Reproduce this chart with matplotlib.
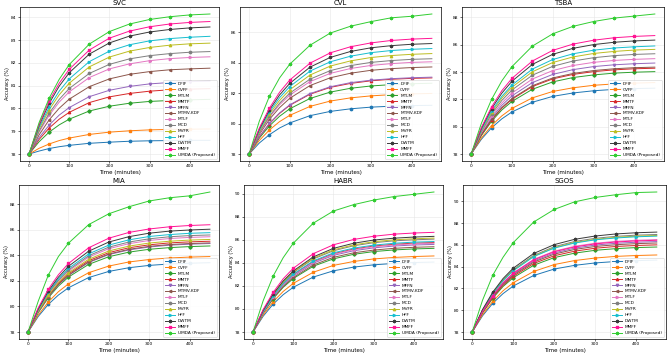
import numpy as np
import matplotlib
matplotlib.use("Agg")
import matplotlib.pyplot as plt

time_min = [0, 25, 50, 75, 100, 150, 200, 250, 300, 350, 400, 450]

methods = ["DFIF", "CVFF", "MTLM", "MMTF", "MFFN", "MTMV-KDF", "MTLF",
           "MCD", "MVFR", "HFF", "DWTM", "MMFF", "UMDA (Proposed)"]

svc = {
    "DFIF": [78.0, 78.13, 78.24, 78.32, 78.38, 78.47, 78.52, 78.56, 78.58, 78.59, 78.60, 78.60],
    "CVFF": [78.0, 78.25, 78.44, 78.59, 78.70, 78.86, 78.96, 79.02, 79.06, 79.08, 79.09, 79.10],
    "MTLM": [78.0, 78.54, 78.96, 79.28, 79.53, 79.89, 80.10, 80.23, 80.31, 80.35, 80.38, 80.40],
    "MMTF": [78.0, 78.64, 79.14, 79.53, 79.83, 80.26, 80.51, 80.66, 80.76, 80.82, 80.85, 80.87],
    "MFFN": [78.0, 78.72, 79.27, 79.71, 80.04, 80.52, 80.80, 80.97, 81.08, 81.14, 81.18, 81.20],
    "MTMV-KDF": [78.0, 78.84, 79.50, 80.01, 80.41, 80.96, 81.30, 81.50, 81.62, 81.70, 81.74, 81.77],
    "MTLF": [78.0, 78.96, 79.70, 80.28, 80.73, 81.36, 81.74, 81.96, 82.10, 82.19, 82.24, 82.27],
    "MCD": [78.0, 79.01, 79.79, 80.40, 80.88, 81.54, 81.94, 82.18, 82.32, 82.41, 82.47, 82.50],
    "MVFR": [78.0, 79.09, 79.94, 80.60, 81.11, 81.83, 82.26, 82.52, 82.68, 82.78, 82.84, 82.87],
    "HFF": [78.0, 79.16, 80.06, 80.76, 81.30, 82.06, 82.52, 82.80, 82.97, 83.07, 83.13, 83.17],
    "DWTM": [78.0, 79.25, 80.22, 80.98, 81.57, 82.39, 82.88, 83.18, 83.36, 83.47, 83.54, 83.58],
    "MMFF": [78.0, 79.30, 80.32, 81.11, 81.72, 82.57, 83.09, 83.40, 83.59, 83.71, 83.78, 83.82],
    "UMDA (Proposed)": [78.0, 79.38, 80.45, 81.28, 81.93, 82.83, 83.38, 83.71, 83.91, 84.03, 84.11, 84.15],
}

cvl = {
    "DFIF": [78.0, 78.72, 79.27, 79.71, 80.04, 80.52, 80.80, 80.97, 81.08, 81.14, 81.18, 81.20],
    "CVFF": [78.0, 78.89, 79.58, 80.13, 80.54, 81.13, 81.48, 81.69, 81.82, 81.90, 81.95, 81.98],
    "MTLM": [78.0, 79.04, 79.85, 80.48, 80.97, 81.65, 82.07, 82.32, 82.47, 82.56, 82.62, 82.65],
    "MMTF": [78.0, 79.12, 79.99, 80.67, 81.20, 81.93, 82.38, 82.64, 82.81, 82.91, 82.97, 83.00],
    "MFFN": [78.0, 79.13, 80.01, 80.70, 81.23, 81.97, 82.42, 82.69, 82.85, 82.95, 83.01, 83.05],
    "MTMV-KDF": [78.0, 79.28, 80.28, 81.05, 81.66, 82.50, 83.01, 83.31, 83.50, 83.61, 83.68, 83.72],
    "MTLF": [78.0, 79.36, 80.41, 81.24, 81.87, 82.76, 83.30, 83.62, 83.82, 83.94, 84.02, 84.06],
    "MCD": [78.0, 79.40, 80.49, 81.34, 82.00, 82.92, 83.48, 83.81, 84.02, 84.14, 84.22, 84.26],
    "MVFR": [78.0, 79.48, 80.63, 81.52, 82.22, 83.19, 83.78, 84.12, 84.34, 84.47, 84.55, 84.60],
    "HFF": [78.0, 79.55, 80.76, 81.70, 82.43, 83.45, 84.06, 84.43, 84.66, 84.80, 84.88, 84.93],
    "DWTM": [78.0, 79.63, 80.89, 81.88, 82.64, 83.71, 84.35, 84.74, 84.98, 85.12, 85.21, 85.26],
    "MMFF": [78.0, 79.70, 81.02, 82.06, 82.86, 83.97, 84.65, 85.05, 85.30, 85.46, 85.55, 85.60],
    "UMDA (Proposed)": [78.0, 80.15, 81.80, 83.00, 83.90, 85.15, 85.95, 86.40, 86.70, 86.95, 87.05, 87.20],
}

tsba = {
    "DFIF": [78.0, 79.08, 79.92, 80.57, 81.08, 81.79, 82.22, 82.47, 82.63, 82.73, 82.79, 82.82],
    "CVFF": [78.0, 79.17, 80.08, 80.79, 81.34, 82.11, 82.58, 82.85, 83.03, 83.13, 83.19, 83.23],
    "MTLM": [78.0, 79.35, 80.40, 81.22, 81.85, 82.74, 83.28, 83.60, 83.79, 83.92, 83.99, 84.03],
    "MMTF": [78.0, 79.41, 80.50, 81.35, 82.01, 82.94, 83.50, 83.83, 84.03, 84.16, 84.24, 84.28],
    "MFFN": [78.0, 79.49, 80.65, 81.56, 82.26, 83.23, 83.83, 84.18, 84.40, 84.53, 84.61, 84.66],
    "MTMV-KDF": [78.0, 79.42, 80.53, 81.40, 82.06, 83.00, 83.57, 83.90, 84.11, 84.24, 84.32, 84.36],
    "MTLF": [78.0, 79.56, 80.78, 81.73, 82.46, 83.49, 84.11, 84.48, 84.71, 84.85, 84.93, 84.98],
    "MCD": [78.0, 79.64, 80.92, 81.92, 82.69, 83.77, 84.42, 84.81, 85.05, 85.20, 85.29, 85.34],
    "MVFR": [78.0, 79.72, 81.05, 82.09, 82.89, 84.02, 84.70, 85.11, 85.36, 85.51, 85.61, 85.66],
    "HFF": [78.0, 79.77, 81.15, 82.22, 83.05, 84.22, 84.92, 85.34, 85.60, 85.76, 85.85, 85.91],
    "DWTM": [78.0, 79.87, 81.32, 82.45, 83.33, 84.56, 85.30, 85.74, 86.01, 86.18, 86.28, 86.34],
    "MMFF": [78.0, 79.94, 81.45, 82.63, 83.54, 84.81, 85.59, 86.05, 86.33, 86.51, 86.61, 86.67],
    "UMDA (Proposed)": [78.0, 80.25, 82.00, 83.35, 84.40, 85.90, 86.80, 87.35, 87.70, 87.95, 88.10, 88.25],
}

mia = {
    "DFIF": [78.0, 79.21, 80.16, 80.89, 81.46, 82.26, 82.74, 83.03, 83.21, 83.32, 83.38, 83.42],
    "CVFF": [78.0, 79.32, 80.35, 81.15, 81.77, 82.64, 83.16, 83.48, 83.67, 83.79, 83.86, 83.90],
    "MTLM": [78.0, 79.51, 80.68, 81.59, 82.30, 83.29, 83.89, 84.25, 84.47, 84.60, 84.68, 84.73],
    "MMTF": [78.0, 79.59, 80.83, 81.79, 82.54, 83.58, 84.21, 84.59, 84.82, 84.97, 85.05, 85.10],
    "MFFN": [78.0, 79.55, 80.75, 81.70, 82.42, 83.44, 84.06, 84.42, 84.65, 84.79, 84.87, 84.92],
    "MTMV-KDF": [78.0, 79.56, 80.77, 81.72, 82.45, 83.48, 84.10, 84.47, 84.70, 84.84, 84.92, 84.97],
    "MTLF": [78.0, 79.67, 80.97, 81.98, 82.76, 83.86, 84.52, 84.91, 85.16, 85.31, 85.40, 85.45],
    "MCD": [78.0, 79.70, 81.02, 82.05, 82.85, 83.97, 84.64, 85.04, 85.29, 85.45, 85.54, 85.59],
    "MVFR": [78.0, 79.62, 80.88, 81.87, 82.63, 83.69, 84.34, 84.72, 84.96, 85.10, 85.19, 85.24],
    "HFF": [78.0, 79.74, 81.09, 82.15, 82.97, 84.11, 84.80, 85.21, 85.47, 85.62, 85.72, 85.77],
    "DWTM": [78.0, 79.80, 81.20, 82.29, 83.14, 84.32, 85.04, 85.46, 85.73, 85.89, 85.98, 86.04],
    "MMFF": [78.0, 79.88, 81.34, 82.48, 83.36, 84.59, 85.34, 85.79, 86.06, 86.23, 86.33, 86.39],
    "UMDA (Proposed)": [78.0, 80.40, 82.45, 83.90, 84.95, 86.40, 87.25, 87.80, 88.25, 88.50, 88.65, 88.95],
}

habr = {
    "DFIF": [78.0, 79.36, 80.42, 81.24, 81.88, 82.77, 83.31, 83.63, 83.83, 83.95, 84.03, 84.07],
    "CVFF": [78.0, 79.48, 80.63, 81.52, 82.22, 83.19, 83.78, 84.12, 84.34, 84.47, 84.55, 84.60],
    "MTLM": [78.0, 79.63, 80.89, 81.88, 82.64, 83.71, 84.35, 84.74, 84.98, 85.12, 85.21, 85.26],
    "MMTF": [78.0, 79.74, 81.09, 82.14, 82.96, 84.10, 84.79, 85.20, 85.46, 85.61, 85.71, 85.76],
    "MFFN": [78.0, 79.70, 81.02, 82.06, 82.86, 83.97, 84.65, 85.05, 85.30, 85.46, 85.55, 85.60],
    "MTMV-KDF": [78.0, 79.66, 80.95, 81.95, 82.73, 83.82, 84.48, 84.87, 85.11, 85.26, 85.35, 85.40],
    "MTLF": [78.0, 79.72, 81.06, 82.11, 82.92, 84.05, 84.74, 85.15, 85.40, 85.55, 85.65, 85.70],
    "MCD": [78.0, 79.81, 81.21, 82.30, 83.15, 84.34, 85.05, 85.48, 85.75, 85.91, 86.00, 86.06],
    "MVFR": [78.0, 79.83, 81.24, 82.35, 83.21, 84.41, 85.13, 85.56, 85.83, 86.00, 86.09, 86.15],
    "HFF": [78.0, 79.76, 81.12, 82.19, 83.02, 84.17, 84.87, 85.28, 85.54, 85.70, 85.80, 85.85],
    "DWTM": [78.0, 79.86, 81.30, 82.43, 83.30, 84.52, 85.26, 85.70, 85.98, 86.14, 86.24, 86.30],
    "MMFF": [78.0, 79.94, 81.44, 82.62, 83.53, 84.80, 85.57, 86.03, 86.31, 86.49, 86.59, 86.65],
    "UMDA (Proposed)": [78.0, 80.70, 82.85, 84.45, 85.70, 87.45, 88.50, 89.05, 89.45, 89.75, 89.95, 90.15],
}

sgos = {
    "DFIF": [78.0, 79.48, 80.63, 81.52, 82.22, 83.19, 83.78, 84.12, 84.34, 84.47, 84.55, 84.60],
    "CVFF": [78.0, 79.58, 80.81, 81.78, 82.52, 83.56, 84.19, 84.56, 84.79, 84.94, 85.02, 85.07],
    "MTLM": [78.0, 79.75, 81.10, 82.17, 82.98, 84.13, 84.83, 85.24, 85.50, 85.65, 85.75, 85.80],
    "MMTF": [78.0, 79.79, 81.18, 82.27, 83.11, 84.29, 85.00, 85.42, 85.69, 85.85, 85.94, 86.00],
    "MFFN": [78.0, 79.86, 81.30, 82.43, 83.30, 84.52, 85.26, 85.70, 85.98, 86.14, 86.24, 86.30],
    "MTMV-KDF": [78.0, 79.83, 81.25, 82.36, 83.22, 84.42, 85.15, 85.58, 85.85, 86.01, 86.11, 86.17],
    "MTLF": [78.0, 79.90, 81.38, 82.53, 83.42, 84.67, 85.42, 85.87, 86.15, 86.32, 86.42, 86.48],
    "MCD": [78.0, 80.00, 81.56, 82.78, 83.72, 85.03, 85.83, 86.31, 86.60, 86.78, 86.89, 86.95],
    "MVFR": [78.0, 79.98, 81.53, 82.73, 83.66, 84.96, 85.75, 86.22, 86.51, 86.69, 86.80, 86.86],
    "HFF": [78.0, 79.97, 81.50, 82.70, 83.62, 84.92, 85.70, 86.17, 86.46, 86.63, 86.74, 86.80],
    "DWTM": [78.0, 80.05, 81.65, 82.90, 83.86, 85.21, 86.02, 86.51, 86.81, 87.00, 87.11, 87.17],
    "MMFF": [78.0, 79.89, 81.35, 82.50, 83.38, 84.62, 85.37, 85.81, 86.09, 86.26, 86.36, 86.42],
    "UMDA (Proposed)": [78.0, 80.90, 83.20, 84.85, 86.20, 88.10, 89.25, 89.95, 90.35, 90.60, 90.80, 90.85],
}

panels = [("SVC", svc), ("CVL", cvl), ("TSBA", tsba),
          ("MIA", mia), ("HABR", habr), ("SGOS", sgos)]

colors = ["#1f77b4", "#ff7f0e", "#2ca02c", "#d62728", "#9467bd", "#8c564b",
          "#e377c2", "#7f7f7f", "#bcbd22", "#17becf", "#3a3a3a", "#ff1493", "#32cd32"]
markers = ["o", "s", "D", "^", "v", "<", ">", "o", "^", ">", "P", "X", "P"]

# axes boxes in pixels (left, top, right, bottom) of a 668x355 canvas
W, H = 668, 355
boxes = [(20, 7, 219, 161), (240, 7, 441, 161), (462, 7, 664, 161),
         (19, 185, 219, 339), (244, 185, 443, 339), (463, 185, 666, 339)]

fig = plt.figure(figsize=(W / 100, H / 100), dpi=100)
t = np.array(time_min)
mark_idx = [i for i, v in enumerate(time_min) if v % 50 == 0 and v <= 400]

for (title, data), (l, tp, r, b) in zip(panels, boxes):
    ax = fig.add_axes([l / W, 1 - b / H, (r - l) / W, (b - tp) / H])
    for name, c, m in zip(methods, colors, markers):
        ax.plot(t, data[name], color=c, marker=m, markevery=mark_idx,
                lw=0.7, ms=1.7, label=name)
    ax.set_title(title, fontsize=5, pad=1.5)
    ax.set_xlabel("Time (minutes)", fontsize=4, labelpad=1)
    ax.set_ylabel("Accuracy (%)", fontsize=3.6, labelpad=1)
    ax.set_xticks([0, 100, 200, 300, 400])
    ax.tick_params(labelsize=3.2, length=1.5, width=0.4, pad=1)
    ax.grid(True, color="#e6e6e6", lw=0.4)
    for s in ax.spines.values():
        s.set_linewidth(0.5)
    ax.legend(loc="lower right", fontsize=3.1, labelspacing=0.45,
              handlelength=2.2, borderpad=0.4, framealpha=0.9,
              edgecolor="#cccccc", fancybox=True).get_frame().set_linewidth(0.4)

fig.savefig("out.png", dpi=100)
